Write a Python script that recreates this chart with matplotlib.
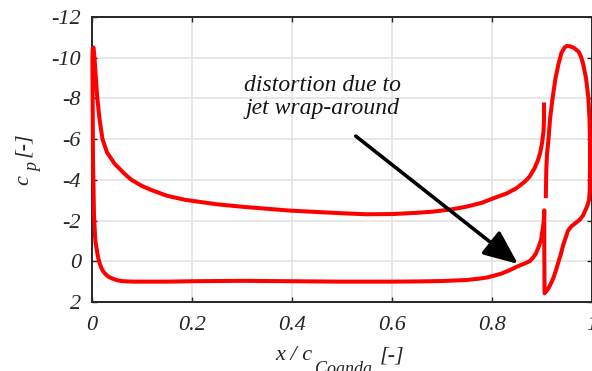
import numpy as np
import matplotlib
matplotlib.use('Agg')
from matplotlib import pyplot as plt

# pressure distribution around the Coanda airfoil as one continuous path:
# jet slot -> Coanda surface loop -> lower side (right to left) -> upper side
x_path = [0.9085, 0.9095, 0.911, 0.914, 0.917, 0.922, 0.928, 0.934, 0.940, 0.946,
          0.951, 0.957, 0.965, 0.974, 0.979, 0.983, 0.989, 0.9935, 0.996, 0.997,
          0.997, 0.9965, 0.995, 0.992, 0.988, 0.983, 0.976, 0.968, 0.959, 0.953,
          0.949, 0.944, 0.939, 0.934, 0.929, 0.924, 0.919, 0.914, 0.909, 0.906,
          0.9055, 0.9055, 0.9045, 0.903, 0.899, 0.894, 0.889, 0.883, 0.876, 0.865,
          0.852, 0.835, 0.820, 0.803, 0.790, 0.776, 0.750, 0.700, 0.650, 0.600,
          0.500, 0.400, 0.300, 0.200, 0.150, 0.120, 0.100, 0.086, 0.070, 0.060,
          0.050, 0.039, 0.033, 0.028, 0.023, 0.019, 0.016, 0.013, 0.011, 0.009,
          0.007, 0.006, 0.004, 0.003, 0.002, 0.0015, 0.001, 0.0008, 0.0015, 0.003,
          0.005, 0.008, 0.0107, 0.015, 0.021, 0.030, 0.045, 0.065, 0.079, 0.100,
          0.119, 0.150, 0.186, 0.250, 0.300, 0.350, 0.396, 0.450, 0.500, 0.549,
          0.600, 0.650, 0.683, 0.720, 0.749, 0.780, 0.803, 0.830, 0.849, 0.866,
          0.876, 0.886, 0.893, 0.897, 0.901, 0.904, 0.905, 0.905]
cp_path = [-3.1, -4.5, -5.3, -6.0, -7.0, -8.0, -9.0, -9.7, -10.25, -10.5,
           -10.58, -10.56, -10.48, -10.3, -10.05, -9.72, -9.0, -8.09, -7.0, -5.96,
           -4.5, -3.5, -3.0, -2.75, -2.52, -2.25, -2.03, -1.88, -1.70, -1.5,
           -1.21, -0.85, -0.39, 0.02, 0.43, 0.8, 1.08, 1.32, 1.49, 1.57,
           -0.5, -2.5, -2.0, -1.7, -1.05, -0.7, -0.39, -0.18, 0.0, 0.12,
           0.25, 0.45, 0.6, 0.72, 0.8, 0.85, 0.92, 0.97, 0.99, 1.0,
           1.0, 0.98, 0.96, 0.98, 1.0, 1.0, 1.0, 1.0, 0.99, 0.97,
           0.93, 0.83, 0.76, 0.65, 0.52, 0.34, 0.15, -0.1, -0.35, -0.64,
           -0.95, -1.3, -2.27, -3.5, -5.0, -7.0, -9.0, -10.0, -10.45, -10.5,
           -10.0, -8.9, -8.0, -7.0, -6.0, -5.35, -4.8, -4.3, -4.0, -3.7,
           -3.5, -3.22, -3.02, -2.8, -2.68, -2.58, -2.49, -2.42, -2.36, -2.31,
           -2.32, -2.38, -2.44, -2.55, -2.68, -2.87, -3.09, -3.33, -3.58, -3.9,
           -4.16, -4.57, -4.98, -5.3, -5.8, -6.4, -7.0, -7.8]

x_ticks = [0, 0.2, 0.4, 0.6, 0.8, 1]
x_tick_labels = ['0', '0.2', '0.4', '0.6', '0.8', '1']
y_ticks = [-12, -10, -8, -6, -4, -2, 0, 2]
y_tick_labels = ['-12', '-10', '-8', '-6', '-4', '-2', '0', '2']

note_text = 'distortion due to\njet wrap-around'
note_xy = (0.462, -8.07)       # text centre
arrow_start = (0.528, -6.15)
arrow_tip = (0.8527, 0.13)

FS = 16
TXT = '#262626'
W, H = 592, 371

plt.rcParams['font.family'] = 'Liberation Serif'
plt.rcParams['font.style'] = 'italic'
plt.rcParams['axes.unicode_minus'] = False

fig = plt.figure(figsize=(W / 100, H / 100), dpi=100)
ax = fig.add_axes([92 / W, 1 - 302 / H, 499.5 / W, 285 / H])

ax.plot(x_path, cp_path, color='#ff0000', lw=2.9, solid_joinstyle='round',
        solid_capstyle='butt', zorder=3, clip_on=False)

ax.set_xlim(0, 1)
ax.set_ylim(2, -12)
ax.set_xticks(x_ticks)
ax.set_xticklabels(x_tick_labels)
ax.set_yticks(y_ticks)
ax.set_yticklabels(y_tick_labels)
ax.grid(True, color='#e3e3e3', lw=1.2)
ax.set_axisbelow(True)
for s in ax.spines.values():
    s.set_color(TXT)
    s.set_linewidth(1.4)
ax.tick_params(direction='in', length=3.6, width=1.0, color=TXT,
               labelsize=FS, labelcolor=TXT, top=True, right=True)
ax.tick_params(axis='x', pad=10)
ax.tick_params(axis='y', pad=8)


# axis labels, built from pieces so the subscripts sit low like the original
def px(x, y):
    return x / W, 1 - y / H

fig.text(*px(275, 360), 'x / c', fontsize=FS, color=TXT, ha='left', va='baseline')
fig.text(*px(315, 374), 'Coanda', fontsize=13, color=TXT, ha='left', va='baseline')
fig.text(*px(380, 360), '[-]', fontsize=FS, color=TXT, ha='left', va='baseline')

fig.text(*px(28, 180), 'c', fontsize=FS, color=TXT, rotation=90,
         rotation_mode='anchor', ha='center', va='baseline')
fig.text(*px(38, 168), 'p', fontsize=13, color=TXT, rotation=90,
         rotation_mode='anchor', ha='center', va='baseline')
fig.text(*px(28, 145), '[-]', fontsize=FS, color=TXT, rotation=90,
         rotation_mode='anchor', ha='center', va='baseline')

ax.annotate('', xy=arrow_tip, xytext=arrow_start,
            arrowprops=dict(arrowstyle='-|>,head_length=1.05,head_width=0.45',
                            color='black', lw=2.6, mutation_scale=20,
                            shrinkA=0, shrinkB=0))
ax.text(note_xy[0], note_xy[1], note_text, fontsize=17, ha='center', va='center',
        multialignment='center', linespacing=1.1, color='#151515')

fig.savefig('out.png', dpi=100)
